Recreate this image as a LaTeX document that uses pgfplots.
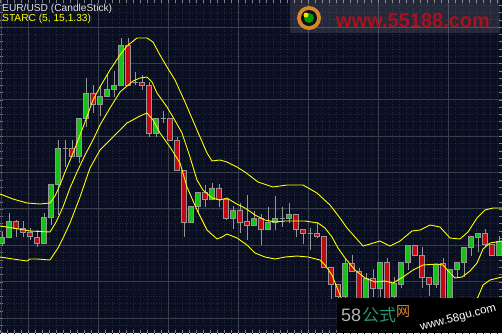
\documentclass[border=0pt]{standalone}
\usepackage{pgfplots}
\pgfplotsset{compat=1.18}
\usepackage{pgfplotstable}
\usepgfplotslibrary{statistics}
\usepackage{fontspec}
\setmainfont{Liberation Sans}
\newfontfamily\cjk{Noto Sans CJK SC}
\definecolor{bg}{RGB}{9,14,32}
\definecolor{gridmaj}{RGB}{56,62,76}
\definecolor{gridmin}{RGB}{32,39,58}
\definecolor{candgreen}{RGB}{20,195,20}
\definecolor{candred}{RGB}{195,10,20}
\definecolor{candgray}{RGB}{150,150,150}
\definecolor{band}{RGB}{255,255,0}
\definecolor{wmred}{RGB}{165,18,32}
\definecolor{txtgray}{RGB}{225,225,225}
\definecolor{cjkgreen}{RGB}{35,150,110}
\definecolor{cjkorange}{RGB}{215,135,40}

% candles: x, open, high, low, close (screen rows, top = 0)
\pgfplotstableread{
x o h l c
2 243 232 246 237
9 237 213 237 221
16 221 220 237 228
23 228 221 237 232
30 232 228 240 236
37 237 230 247 243
44 243 213 243 217
51 217 184 225 184
58 184 140 215 148
65 148 140 167 148
72 148 140 156 156
79 156 118 163 118
86 118 78 127 93
93 93 85 113 104
100 104 85 116 96
107 96 74 96 89
114 89 71 97 85
121 85 38 85 45
128 45 38 85 85
135 82 72 85 82
142 82 75 90 85
149 85 82 137 133
156 133 118 137 118
163 118 111 123 118
170 118 118 140 140
177 140 137 170 170
184 170 170 237 222
191 222 206 222 206
198 206 192 213 192
205 192 185 207 199
212 199 183 199 188
219 188 184 207 199
226 199 199 220 218
233 218 206 229 210
240 210 203 233 222
247 221 195 240 225
254 225 211 225 218
261 218 214 245 229
268 229 207 229 222
275 222 196 230 218
282 218 207 227 218
289 218 203 223 214
296 214 214 237 229
303 229 229 244 233
310 233 228 250 233
317 233 222 238 236
324 236 236 268 267
331 267 267 299 284
338 284 284 305 296
345 296 258 300 263
352 263 255 271 271
359 271 268 310 305
366 305 273 310 278
373 278 269 297 288
380 288 262 297 262
387 262 258 305 300
394 296 277 300 283
401 284 262 288 262
408 262 245 270 245
415 245 245 255 255
422 255 247 288 277
429 277 277 296 284
436 284 264 288 264
443 263 258 305 300
450 300 269 305 269
457 269 262 277 262
464 262 247 277 247
471 247 236 256 236
478 237 233 252 233
485 233 229 247 244
492 244 244 255 255
499 255 236 255 241
}\candles

\pgfplotstableread{
x y
0 194
13 199
27 203
40 204
50 203
55 196
60 185
65 172
71 158
77 143
85 122
93 100
100 87
110 70
120 55
127 46
137 38
147 38
153 42
160 55
167 67
175 80
185 102
197 130
207 153
212 161
220 160
227 162
237 167
245 172
258 182
273 187
287 185
303 185
317 193
330 205
340 218
347 228
355 237
363 246
370 244
380 241
390 246
400 241
412 231
420 230
430 225
440 227
450 238
460 239
468 232
477 218
485 210
493 208
502 208
}\upperband

\pgfplotstableread{
x y
0 226
13 228
30 231
50 232
55 224
58 218
63 207
70 188
77 172
85 155
93 140
100 125
110 108
120 92
127 86
133 81
140 78
147 77
152 82
157 93
167 107
173 117
182 133
190 157
197 180
203 190
212 198
220 200
227 198
235 203
245 208
255 215
265 220
275 222
285 221
295 221
305 221
318 223
325 228
332 237
338 248
345 258
355 270
365 278
375 282
385 281
393 283
403 277
413 270
423 265
437 264
443 265
450 273
455 278
462 277
470 271
477 263
483 249
490 243
502 241
}\middleband

\pgfplotstableread{
x y
0 257
13 259
27 261
30 259
37 259
50 260
58 248
64 236
70 223
80 197
90 168
100 150
113 137
127 123
140 116
147 113
153 120
160 133
170 147
180 163
187 187
197 210
207 230
217 239
222 237
227 234
237 238
247 245
255 253
265 257
275 259
285 257
297 256
308 257
320 260
325 265
332 275
338 290
344 305
360 318
400 325
440 322
465 312
478 297
483 285
490 280
502 277
}\lowerband

\begin{document}
\begin{tikzpicture}
\begin{axis}[
  width=502pt, height=333pt, scale only axis,
  xmin=0, xmax=502, ymin=0, ymax=333, y dir=reverse,
  axis background/.style={fill=bg},
  axis line style={draw=none},
  xmajorticks=false, ymajorticks=false,
  xminorticks=false, yminorticks=false,
  xtick={28,98,168,238,308,378,448},
  ytick={27,63.375,99.75,136.125,172.5,208.875,245.25,281.625,318},
  minor xtick={0,7,...,502},
  minor ytick={5.175,12.45,...,333},
  xmajorgrids, ymajorgrids, xminorgrids, yminorgrids,
  major grid style={draw=gridmaj, line width=0.9pt},
  minor grid style={draw=gridmin, line width=0.6pt, dotted},
  extra x ticks={1}, extra x tick labels={},
  extra x tick style={grid=major, major grid style={draw=gridmaj, line width=1pt}},
]
\pgfplotsforeachungrouped \i in {0,...,71}{%
  \pgfplotstablegetelem{\i}{x}\of\candles \let\candX\pgfplotsretval
  \pgfplotstablegetelem{\i}{o}\of\candles \let\candO\pgfplotsretval
  \pgfplotstablegetelem{\i}{h}\of\candles \let\candH\pgfplotsretval
  \pgfplotstablegetelem{\i}{l}\of\candles \let\candL\pgfplotsretval
  \pgfplotstablegetelem{\i}{c}\of\candles \let\candC\pgfplotsretval
  \pgfmathsetmacro\candTop{min(\candO,\candC)}%
  \pgfmathsetmacro\candBot{max(\candO,\candC)}%
  \ifdim\candO pt<\candC pt \def\candFill{candred}\else\def\candFill{candgreen}\fi
  \edef\tmp{\noexpand\addplot[draw=candgray, fill=\candFill, line width=0.9pt,
    boxplot/draw direction=y,
    boxplot/box extend=5, boxplot/whisker extend=0,
    boxplot prepared={draw position=\candX, lower whisker=\candH,
      lower quartile=\candTop, median=\candTop, upper quartile=\candBot,
      upper whisker=\candL}] coordinates {};}%
  \tmp
}
\addplot[band, line width=0.9pt, no markers] table[x=x,y=y]{\upperband};
\addplot[band, line width=0.9pt, no markers] table[x=x,y=y]{\middleband};
\addplot[band, line width=0.9pt, no markers] table[x=x,y=y]{\lowerband};

% header texts
\node[anchor=base west, text=txtgray, font=\fontsize{10.2}{10.2}\selectfont, inner sep=0pt] at (axis cs:2,11) {EUR/USD (CandleStick)};
\node[anchor=base west, text=band, font=\fontsize{10.2}{10.2}\selectfont, inner sep=0pt] at (axis cs:2,21.5) {STARC (5, 15,1.33)};

% top-right watermark
\fill[white, fill opacity=0.11] (axis cs:290,0) rectangle (axis cs:500,33);
\fill[cjkorange] (axis cs:309,18) circle[radius=12pt];
\fill[bg] (axis cs:309,18) circle[radius=8pt];
\fill[green!60!black] (axis cs:309,18) circle[radius=5pt];
\fill[yellow!80!orange] (axis cs:306,15) circle[radius=2.5pt];
\node[anchor=base west, text=wmred, font=\bfseries\fontsize{20}{20}\selectfont, inner sep=0pt] at (axis cs:336,27.5) {www.55188.com};

% bottom-right watermark
\fill[black] (axis cs:337,298) rectangle (axis cs:502,333);
\node[anchor=base west, text=gray!60!white, font=\fontsize{18}{18}\selectfont, inner sep=0pt] at (axis cs:341,321) {58};
\node[anchor=base west, text=cjkgreen, font=\cjk\fontsize{17}{17}\selectfont, inner sep=0pt] at (axis cs:362,321) {公式};
\node[anchor=base west, text=cjkorange, font=\cjk\fontsize{14}{14}\selectfont, inner sep=0pt] at (axis cs:396,316) {网};
\node[anchor=base west, text=white, rotate=15, font=\fontsize{11.5}{11.5}\selectfont, inner sep=0pt] at (axis cs:421,331) {www.58gu.com};
\end{axis}
\pgfresetboundingbox
\path[use as bounding box] (current axis.south west) rectangle (current axis.north east);
\end{tikzpicture}
\end{document}
